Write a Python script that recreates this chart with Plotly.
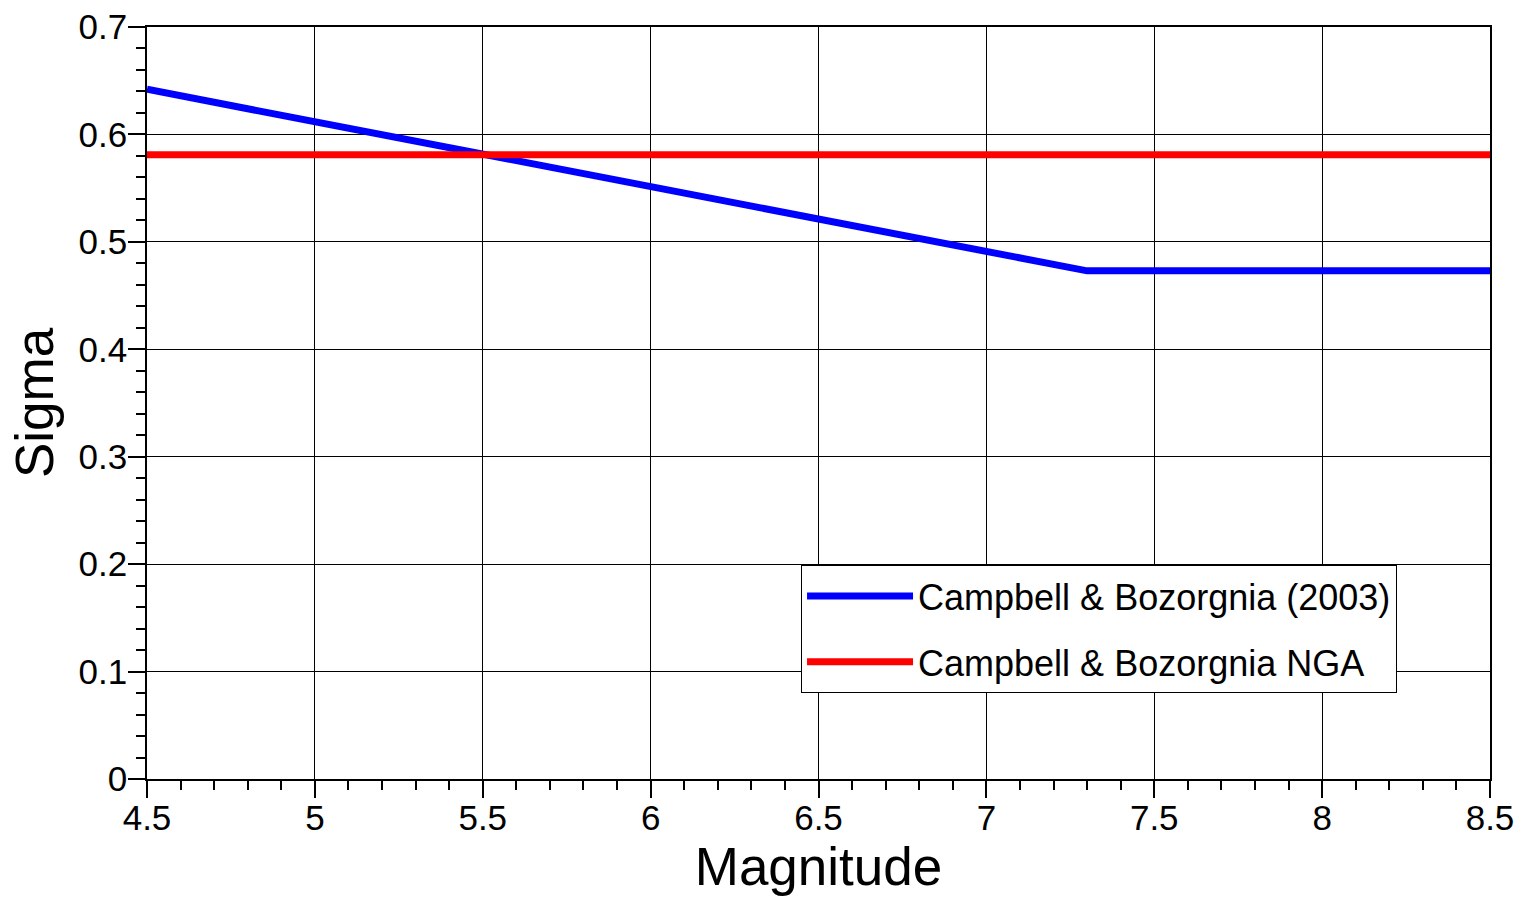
import plotly.graph_objects as go

# Data
mag_cb03 = [4.5, 5.0, 5.5, 6.0, 6.5, 7.0, 7.3, 8.5]
sigma_cb03 = [0.642, 0.612, 0.581, 0.551, 0.521, 0.491, 0.473, 0.473]
mag_nga = [4.5, 8.5]
sigma_nga = [0.581, 0.581]
names = ["Campbell & Bozorgnia (2003)", "Campbell & Bozorgnia NGA"]
colors = ["#0000ff", "#ff0000"]

xticks = [4.5, 5, 5.5, 6, 6.5, 7, 7.5, 8, 8.5]
yticks = [0, 0.1, 0.2, 0.3, 0.4, 0.5, 0.6, 0.7]

FONT = "Liberation Sans, Arial, sans-serif"

fig = go.Figure()
fig.add_trace(go.Scatter(x=mag_cb03, y=sigma_cb03, mode="lines", name=names[0],
                         legendgroup="a",
                         line=dict(color=colors[0], width=7)))
fig.add_trace(go.Scatter(x=mag_nga, y=sigma_nga, mode="lines", name=names[1],
                         legendgroup="b",
                         line=dict(color=colors[1], width=7)))

axis_common = dict(
    showline=True, linecolor="black", linewidth=1.5, mirror=True,
    showgrid=True, gridcolor="black", gridwidth=1,
    ticks="outside", ticklen=17, tickwidth=1.5, tickcolor="black",
    zeroline=False, automargin=False,
)

fig.update_xaxes(
    range=[4.5, 8.5], tickvals=xticks, ticktext=[f"{v:g}" for v in xticks],
    tickfont=dict(family=FONT, size=35, color="black"),
    ticklabelstandoff=-10,
    title=dict(text="Magnitude", font=dict(family=FONT, size=53, color="black"), standoff=6),
    minor=dict(dtick=0.1, tick0=4.5, ticks="outside", ticklen=9, tickwidth=1.5,
               tickcolor="black", showgrid=False),
    **axis_common,
)
fig.update_yaxes(
    range=[0, 0.7], tickvals=yticks, ticktext=[f"{v:g}" for v in yticks],
    tickfont=dict(family=FONT, size=35, color="black"),
    ticklabelstandoff=-6,
    title=dict(text="Sigma", font=dict(family=FONT, size=53, color="black"), standoff=8),
    minor=dict(dtick=0.02, tick0=0, ticks="outside", ticklen=9, tickwidth=1.5,
               tickcolor="black", showgrid=False),
    **axis_common,
)

fig.update_layout(
    width=1526, height=899,
    margin=dict(l=147, r=36, t=27, b=120, autoexpand=False),
    plot_bgcolor="white", paper_bgcolor="white",
    font=dict(family=FONT, color="black"),
    legend=dict(
        x=0.487, y=0.2846, xanchor="left", yanchor="top",
        bgcolor="white", bordercolor="black", borderwidth=1,
        font=dict(family=FONT, size=36, color="black"),
        traceorder="grouped", tracegroupgap=16,
        itemwidth=106,
    ),
    showlegend=True,
)

fig.write_html("out.html")
